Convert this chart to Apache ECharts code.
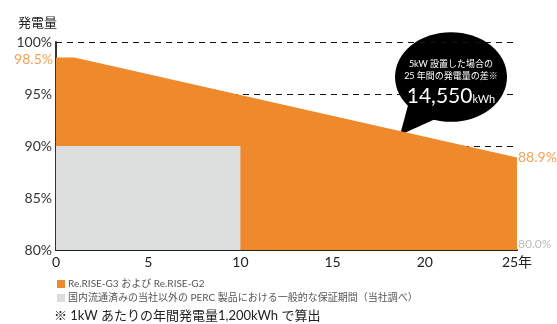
<!DOCTYPE html>
<html>
<head>
<meta charset="utf-8">
<style>
  html, body { margin: 0; padding: 0; background: #fff; }
  #chart { width: 557px; height: 324px; }
</style>
<script src="https://cdn.jsdelivr.net/npm/echarts@6/dist/echarts.min.js"></script>
</head>
<body>
<div id="chart"></div>
<script>
// 年数と出力保証 (%)
var reriseYears = [0, 1, 25];
var reriseValues = [98.5, 98.5, 88.9];
var percYears = [0, 10];
var percValues = [90, 90];
var baseYears = [25];
var baseValues = [80.0];

var xTicks = [0, 5, 10, 15, 20, 25];
var yTicks = [80, 85, 90, 95, 100];

var seriesNames = ['Re.RISE-G3 および Re.RISE-G2', '国内流通済みの当社以外の PERC 製品における一般的な保証期間（当社調べ）'];

var ORANGE = '#ee892c';
var GRAY = '#dcdddd';
var FONT = 'Lato, "Noto Sans CJK JP", sans-serif';

var chart = echarts.init(document.getElementById('chart'));

function pairs(xs, ys) {
  return xs.map(function (x, i) { return [x, ys[i]]; });
}
function pct(d) { return d.value[1].toFixed(1) + '%'; }

// 始点と終点の値ラベル
var last = reriseYears.length - 1;
var endLabels = [
  { value: [reriseYears[0], reriseValues[0]],
    label: { position: 'left', distance: 3, offset: [0, 2], color: ORANGE, fontSize: 14 } },
  { value: [reriseYears[last], reriseValues[last]],
    label: { position: 'right', distance: 1, color: ORANGE, fontSize: 14 } },
  { value: [baseYears[0], baseValues[0]],
    label: { position: 'right', distance: 1, offset: [0, -6], color: '#aaa', fontSize: 12 } }
];

var option = {
  animation: false,
  textStyle: { fontFamily: FONT },
  title: {
    text: '発電量',
    left: 13, top: 11,
    textStyle: { fontSize: 13, fontWeight: 'normal', color: '#222', fontFamily: FONT }
  },
  grid: { left: 56, right: 40, top: 42, bottom: 74, containLabel: false },
  legend: {
    orient: 'vertical',
    left: 52, top: 274,
    itemWidth: 8, itemHeight: 8, itemGap: 4,
    icon: 'rect',
    textStyle: { fontSize: 10, color: '#555', padding: [0, 0, 0, -2] },
    data: seriesNames
  },
  xAxis: {
    type: 'value',
    min: 0, max: 25, interval: 5,
    axisLine: { show: true, lineStyle: { color: '#222', width: 2 } },
    axisTick: { show: false },
    splitLine: { show: false },
    axisLabel: {
      fontSize: 14, color: '#222', margin: 5,
      formatter: function (v) { return v === xTicks[xTicks.length - 1] ? v + '年' : String(v); }
    }
  },
  yAxis: {
    type: 'value',
    min: yTicks[0], max: yTicks[yTicks.length - 1], interval: 5,
    axisLine: { show: true, lineStyle: { color: '#333', width: 2 } },
    axisTick: { show: false },
    splitLine: { show: true, lineStyle: { color: '#111', type: [6, 5], width: 1 } },
    axisLabel: { fontSize: 14, color: '#333', margin: 4, formatter: '{value}%' }
  },
  series: [
    {
      name: seriesNames[0],
      type: 'line',
      data: pairs(reriseYears, reriseValues),
      symbol: 'none',
      color: ORANGE,
      lineStyle: { width: 0 },
      areaStyle: { color: ORANGE, opacity: 1, origin: 'start' },
      z: 1
    },
    {
      name: seriesNames[1],
      type: 'line',
      data: pairs(percYears, percValues),
      symbol: 'none',
      color: GRAY,
      lineStyle: { width: 0 },
      areaStyle: { color: GRAY, opacity: 1, origin: 'start' },
      z: 2
    },
    {
      type: 'scatter',
      data: endLabels,
      symbolSize: 0,
      silent: true,
      label: { show: true, formatter: pct },
      z: 3
    }
  ],
  graphic: [
    {
      type: 'group',
      x: 394, y: 32, z: 10,
      children: [
        { type: 'circle', shape: { cx: 57, cy: 45, r: 56 }, scaleY: 0.8, originX: 57, originY: 45,
          style: { fill: '#000' } },
        { type: 'polygon', shape: { points: [[16, 66], [6, 103], [48, 84]] }, style: { fill: '#000' } },
        { type: 'text', x: 57, y: 26,
          style: { text: '5kW 設置した場合の\n25 年間の発電量の差※', fill: '#fff', fontSize: 9,
            lineHeight: 12, align: 'center', fontFamily: FONT } },
        { type: 'text', x: 57, y: 54,
          style: { text: '{a|14,550}{b|kWh}', fill: '#fff', align: 'center',
            rich: { a: { fontSize: 21, color: '#fff', fontFamily: FONT },
                    b: { fontSize: 11, color: '#fff', fontFamily: FONT, padding: [6, 0, 0, 0] } } } }
      ]
    },
    {
      type: 'text',
      left: 54, top: 309,
      style: { text: '※ 1kW あたりの年間発電量1,200kWh で算出', fill: '#222', fontSize: 13, fontFamily: FONT }
    }
  ]
};

chart.setOption(option);
</script>
</body>
</html>
